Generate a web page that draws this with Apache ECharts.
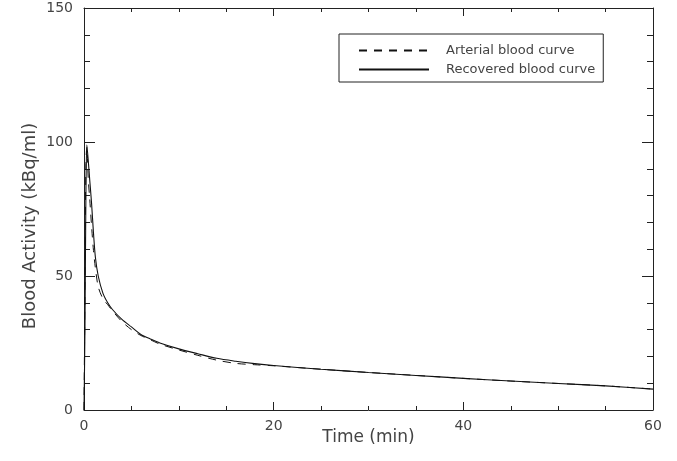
<!DOCTYPE html>
<html>
<head>
<meta charset="utf-8">
<script src="https://cdn.jsdelivr.net/npm/echarts@6/dist/echarts.min.js"></script>
<style>
  html, body { margin: 0; padding: 0; background: #fff; }
  #chart { width: 677px; height: 461px; }
</style>
</head>
<body>
<div id="chart"></div>
<script>
// Sample times (min)
const times = [0, 0.1, 0.2, 0.3, 0.45, 0.6, 0.8, 1.0, 1.2, 1.5, 2, 2.5, 3, 4, 5, 6, 7, 8, 10, 12, 14, 16, 18, 20, 25, 30, 35, 40, 45, 50, 55, 60];
// Arterial blood activity (kBq/ml)
const arterial = [0, 45, 92, 98, 86, 79, 68.5, 59.5, 53, 46, 41.5, 39.3, 37, 33, 30, 27.8, 26.2, 24.6, 22.4, 20.4, 18.6, 17.4, 16.9, 16.5, 15.2, 14.0, 12.9, 11.8, 10.8, 9.9, 9.0, 7.8];
// Recovered blood activity (kBq/ml)
const recovered = [0, 30, 80, 99, 93, 86, 77, 66, 57, 50, 43.5, 40, 37.5, 33.8, 31, 28.2, 26.5, 25, 22.8, 21.0, 19.3, 18.2, 17.3, 16.6, 15.2, 14.0, 12.9, 11.8, 10.8, 9.9, 9.0, 7.8];

const seriesNames = ['Arterial blood curve', 'Recovered blood curve'];
const xTitle = 'Time (min)';
const yTitle = 'Blood Activity (kBq/ml)';

const pairs = (ys) => times.map((t, i) => [t, ys[i]]);

const font = 'DejaVu Sans';
const textColor = '#444';
const axisColor = '#222';

const xBase = {
  type: 'value', min: 0, max: 60, interval: 20,
  axisLine: { show: true, onZero: false, lineStyle: { color: axisColor, width: 1 } },
  axisTick: { show: true, inside: true, length: 8, lineStyle: { color: axisColor } },
  minorTick: { show: true, splitNumber: 4, length: 4, lineStyle: { color: axisColor } },
  splitLine: { show: false },
  minorSplitLine: { show: false }
};
const yBase = {
  type: 'value', min: 0, max: 150, interval: 50,
  axisLine: { show: true, onZero: false, lineStyle: { color: axisColor, width: 1 } },
  axisTick: { show: true, inside: true, length: 11, lineStyle: { color: axisColor } },
  minorTick: { show: true, splitNumber: 5, length: 6, lineStyle: { color: axisColor } },
  splitLine: { show: false },
  minorSplitLine: { show: false }
};

const chart = echarts.init(document.getElementById('chart'), null, { renderer: 'canvas' });
chart.setOption({
  backgroundColor: '#fff',
  animation: false,
  grid: { left: 84, right: 24, top: 8, bottom: 51, containLabel: false },
  legend: {
    orient: 'vertical',
    left: 339, top: 34,
    padding: [10, 8, 6, 19],
    itemWidth: 70, itemHeight: 12, itemGap: 6,
    borderColor: '#222', borderWidth: 1,
    data: seriesNames,
    itemStyle: { opacity: 0 },
    textStyle: { fontFamily: font, fontSize: 13, color: textColor, lineHeight: 13, padding: [0, 0, 0, 12] }
  },
  xAxis: [
    Object.assign({}, xBase, {
      position: 'bottom',
      name: xTitle, nameLocation: 'middle', nameGap: 19, nameMoveOverlap: false,
      nameTextStyle: { fontFamily: font, fontSize: 17, color: textColor },
      axisLabel: { fontFamily: font, fontSize: 14, color: textColor, margin: 9 }
    }),
    Object.assign({}, xBase, { position: 'top', axisLabel: { show: false } })
  ],
  yAxis: [
    Object.assign({}, yBase, {
      position: 'left',
      name: yTitle, nameLocation: 'middle', nameGap: 45, nameMoveOverlap: false,
      nameTextStyle: { fontFamily: font, fontSize: 18, color: textColor, padding: [0, 34, 0, 0] },
      axisLabel: { fontFamily: font, fontSize: 14, color: textColor, margin: 11 }
    }),
    Object.assign({}, yBase, { position: 'right', axisLabel: { show: false } })
  ],
  series: [
    {
      name: seriesNames[0], type: 'line', xAxisIndex: 0, yAxisIndex: 0,
      data: pairs(arterial), symbol: 'none', smooth: 0.3,
      lineStyle: { color: '#111', width: 1, type: [8, 7] },
      itemStyle: { color: '#111' }, z: 3
    },
    {
      name: seriesNames[1], type: 'line', xAxisIndex: 0, yAxisIndex: 0,
      data: pairs(recovered), symbol: 'none', smooth: 0.3,
      lineStyle: { color: '#111', width: 1.1, type: 'solid' },
      itemStyle: { color: '#111' }, z: 4
    }
  ]
});
</script>
</body>
</html>
